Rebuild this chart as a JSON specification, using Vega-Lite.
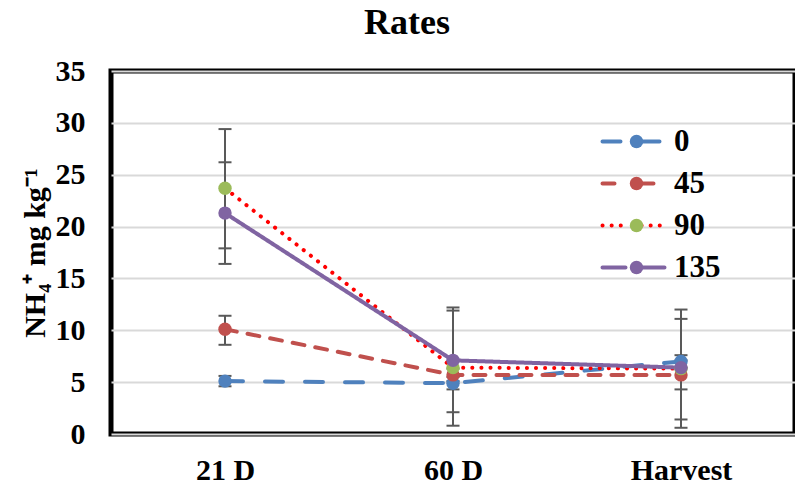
{
  "$schema": "https://vega.github.io/schema/vega-lite/v6.json",
  "width": 684,
  "height": 363,
  "autosize": {"type": "none"},
  "padding": {"left": 111, "top": 71, "right": 0, "bottom": 56},
  "background": "white",
  "view": {"stroke": "black", "strokeWidth": 5},
  "title": {"text": "Rates", "font": "Liberation Serif", "fontSize": 36, "fontWeight": "bold", "color": "black", "anchor": "middle", "dx": -46, "offset": 14},
  "config": {
    "view": {"stroke": "black", "strokeWidth": 5},
    "axis": {"labelFont": "Liberation Serif", "labelFontWeight": "bold", "labelFontSize": 30, "labelColor": "black", "titleFont": "Liberation Serif", "titleFontWeight": "bold", "titleFontSize": 30, "titleColor": "black"}
  },
  "data": {"values": [
    {"time": "21 D", "rate": "0", "value": 5.1, "lo": 4.6, "hi": 5.6},
    {"time": "60 D", "rate": "0", "value": 4.9, "lo": 4.3, "hi": 5.5},
    {"time": "Harvest", "rate": "0", "value": 7.0, "lo": 6.4, "hi": 7.6},
    {"time": "21 D", "rate": "45", "value": 10.1, "lo": 8.6, "hi": 11.4},
    {"time": "60 D", "rate": "45", "value": 5.7, "lo": 5.1, "hi": 6.3},
    {"time": "Harvest", "rate": "45", "value": 5.7, "lo": 4.3, "hi": 7.1},
    {"time": "21 D", "rate": "90", "value": 23.7, "lo": 17.9, "hi": 29.4},
    {"time": "60 D", "rate": "90", "value": 6.4, "lo": 0.8, "hi": 11.9},
    {"time": "Harvest", "rate": "90", "value": 6.3, "lo": 1.4, "hi": 11.1},
    {"time": "21 D", "rate": "135", "value": 21.3, "lo": 16.4, "hi": 26.2},
    {"time": "60 D", "rate": "135", "value": 7.1, "lo": 2.1, "hi": 12.2},
    {"time": "Harvest", "rate": "135", "value": 6.4, "lo": 0.6, "hi": 12.0}
  ]},
  "encoding": {
    "x": {"field": "time", "type": "nominal", "sort": ["21 D", "60 D", "Harvest"], "scale": {"type": "point", "padding": 0.5},
      "axis": {"title": null, "labelAngle": 0, "ticks": false, "domain": false, "grid": false, "labelPadding": 21}}
  },
  "layer": [
    {
      "mark": {"type": "rule", "color": "#595959", "strokeWidth": 2},
      "encoding": {
        "y": {"field": "lo", "type": "quantitative", "scale": {"domain": [0, 35]},
          "axis": {"title": "NH₄⁺ mg kg⁻¹", "values": [0, 5, 10, 15, 20, 25, 30, 35], "ticks": false, "domain": false, "gridColor": "#d9d9d9", "gridWidth": 2, "labelPadding": 26, "titlePadding": 5}},
        "y2": {"field": "hi"}
      }
    },
    {
      "mark": {"type": "tick", "color": "#595959", "thickness": 2, "size": 13, "opacity": 1},
      "encoding": {"y": {"field": "lo", "type": "quantitative"}}
    },
    {
      "mark": {"type": "tick", "color": "#595959", "thickness": 2, "size": 13, "opacity": 1},
      "encoding": {"y": {"field": "hi", "type": "quantitative"}}
    },
    {
      "mark": {"type": "line", "strokeWidth": 4, "strokeCap": "round", "strokeJoin": "round"},
      "encoding": {
        "y": {"field": "value", "type": "quantitative"},
        "stroke": {"field": "rate", "type": "nominal", "scale": {"domain": ["0", "45", "90", "135"], "range": ["#4F81BD", "#C0504D", "#FF0000", "#8064A2"]},
          "legend": {"title": null, "orient": "none", "legendX": 507, "legendY": 55, "padding": 0, "symbolType": "M-3.1,0L-0.8,0M0.8,0L3.1,0", "symbolSize": 400, "symbolStrokeWidth": 4, "labelOffset": 25, "labelFont": "Liberation Serif", "labelFontSize": 31, "labelFontWeight": "bold", "labelColor": "black", "rowPadding": 10,
            "encoding": {"symbols": {"strokeCap": {"value": "round"}}}}},
        "strokeDash": {"field": "rate", "type": "nominal", "scale": {"domain": ["0", "45", "90", "135"], "range": [[18, 22], [12, 11], [0.1, 9], [1, 0]]}},
        "order": {"field": "time"}
      }
    },
    {
      "mark": {"type": "point", "filled": true, "size": 180, "opacity": 1, "shape": "circle"},
      "encoding": {
        "y": {"field": "value", "type": "quantitative"},
        "fill": {"field": "rate", "type": "nominal", "sort": ["0", "45", "90", "135"], "scale": {"range": ["#4F81BD", "#C0504D", "#9BBB59", "#8064A2"]},
          "legend": {"title": null, "orient": "none", "legendX": 510, "legendY": 55, "padding": 0, "symbolType": "circle", "symbolSize": 180, "symbolStrokeWidth": 0, "labelOffset": 25, "labelExpr": "' '", "labelFont": "Liberation Serif", "labelFontSize": 31, "labelFontWeight": "bold", "labelOpacity": 0, "rowPadding": 10}}
      }
    }
  ]
}
